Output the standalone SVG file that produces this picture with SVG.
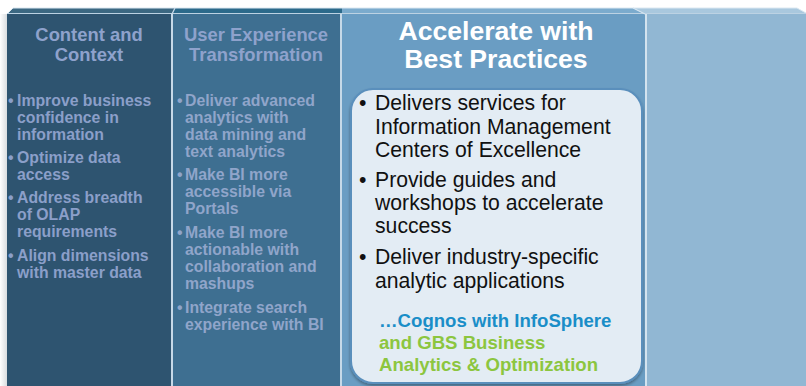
<svg xmlns="http://www.w3.org/2000/svg" width="806" height="386" viewBox="0 0 806 386">
<defs>
<linearGradient id="edge" x1="0" y1="0" x2="1" y2="0">
<stop offset="0" stop-color="#ffffff"/>
<stop offset="1" stop-color="#d9dde0"/>
</linearGradient>
<filter id="sh" x="-5%" y="-5%" width="110%" height="110%">
<feGaussianBlur in="SourceAlpha" stdDeviation="1.5"/>
<feOffset dx="0" dy="2"/>
<feComponentTransfer><feFuncA type="linear" slope="0.35"/></feComponentTransfer>
<feMerge><feMergeNode/><feMergeNode in="SourceGraphic"/></feMerge>
</filter>
</defs>
<style>
text{font-family:"Liberation Sans",Arial,sans-serif}
.h{font-size:18.4px;font-weight:bold;fill:#8ea2cc;text-anchor:middle}
.s{font-size:15.8px;font-weight:bold;fill:#8b9fc9}
.s2{font-size:15.8px;font-weight:bold;fill:#90a5ca}
.t{font-size:26.6px;font-weight:bold;fill:#ffffff;text-anchor:middle}
.b{font-size:21.2px;fill:#111111}
.c{font-size:18.6px;font-weight:bold}
.sep{fill:#c6d9e8}
</style>
<rect x="0" y="0" width="806" height="386" fill="#ffffff"/>
<rect x="0" y="14" width="7" height="372" fill="url(#edge)"/>

<g id="col1">
<polygon points="7,14 13,8 175,8 172,14" fill="#3c6882"/>
<rect x="7" y="13" width="164" height="373" fill="#2e5470"/>
<text class="h" x="89" y="41">Content and</text>
<text class="h" x="89" y="61">Context</text>
<text class="s" x="8" y="106">•</text><text class="s" x="17" y="106">Improve business</text>
<text class="s" x="17" y="123">confidence in</text>
<text class="s" x="17" y="140">information</text>
<text class="s" x="8" y="163">•</text><text class="s" x="17" y="163">Optimize data</text>
<text class="s" x="17" y="180">access</text>
<text class="s" x="8" y="203">•</text><text class="s" x="17" y="203">Address breadth</text>
<text class="s" x="17" y="220">of OLAP</text>
<text class="s" x="17" y="237">requirements</text>
<text class="s" x="8" y="261">•</text><text class="s" x="17" y="261">Align dimensions</text>
<text class="s" x="17" y="278">with master data</text>
</g>

<g id="col2">
<polygon points="172,14 175,8 342,8 342,14" fill="#2c6a8b"/>
<rect x="173" y="13" width="167" height="373" fill="#3e6f91"/>
<text class="h" x="256" y="41">User Experience</text>
<text class="h" x="256" y="61">Transformation</text>
<text class="s2" x="177" y="106">•</text><text class="s2" x="185" y="106">Deliver advanced</text>
<text class="s2" x="185" y="123">analytics with</text>
<text class="s2" x="185" y="140">data mining and</text>
<text class="s2" x="185" y="157">text analytics</text>
<text class="s2" x="177" y="180">•</text><text class="s2" x="185" y="180">Make BI more</text>
<text class="s2" x="185" y="197">accessible via</text>
<text class="s2" x="185" y="214">Portals</text>
<text class="s2" x="177" y="238">•</text><text class="s2" x="185" y="238">Make BI more</text>
<text class="s2" x="185" y="255">actionable with</text>
<text class="s2" x="185" y="272">collaboration and</text>
<text class="s2" x="185" y="289">mashups</text>
<text class="s2" x="177" y="313">•</text><text class="s2" x="185" y="313">Integrate search</text>
<text class="s2" x="185" y="330">experience with BI</text>
</g>

<g id="col3">
<polygon points="342,14 342,8 633,8 645,14" fill="#7babcd"/>
<rect x="342" y="13" width="303" height="373" fill="#6a9dc3"/>
<text class="t" x="496" y="40">Accelerate with</text>
<text class="t" x="496" y="68">Best Practices</text>
<rect x="351" y="89" width="291" height="294" rx="22" ry="22" fill="#e3ecf4" stroke="#5a8fbc" stroke-width="2" filter="url(#sh)"/>
<text class="b" x="359" y="110">•</text><text class="b" x="375" y="110">Delivers services for</text>
<text class="b" x="375" y="133.5">Information Management</text>
<text class="b" x="375" y="157">Centers of Excellence</text>
<text class="b" x="359" y="187">•</text><text class="b" x="375" y="187">Provide guides and</text>
<text class="b" x="375" y="210">workshops to accelerate</text>
<text class="b" x="375" y="233">success</text>
<text class="b" x="359" y="264">•</text><text class="b" x="375" y="264">Deliver industry-specific</text>
<text class="b" x="375" y="288">analytic applications</text>
<text class="c" x="379" y="327" fill="#1a8ec8">…Cognos with InfoSphere</text>
<text class="c" x="379" y="349" fill="#8cc63f">and GBS Business</text>
<text class="c" x="379" y="371" fill="#8cc63f">Analytics &amp; Optimization</text>
</g>

<g id="col4">
<polygon points="645,14 633,8 797,8 806,13 806,14" fill="#a9c8de"/>
<rect x="647" y="13" width="159" height="373" fill="#91b7d3"/>
</g>

<g id="separators">
<rect class="sep" x="171" y="13" width="2" height="373"/>
<rect class="sep" x="340" y="13" width="2" height="373"/>
<rect x="645" y="13" width="2" height="373" fill="#d3e3ef"/>
<polyline points="7,14 13,8 797,8 806,13" fill="none" stroke="#dce8f1" stroke-width="1"/>
<line x1="7" y1="13.5" x2="806" y2="13.5" stroke="#bcd2e3" stroke-width="1"/>
<line x1="172" y1="14" x2="175" y2="8" stroke="#c6d9e8" stroke-width="1.2"/>
<line x1="645" y1="14" x2="633" y2="8" stroke="#d3e3ef" stroke-width="1.2"/>
</g>
</svg>
